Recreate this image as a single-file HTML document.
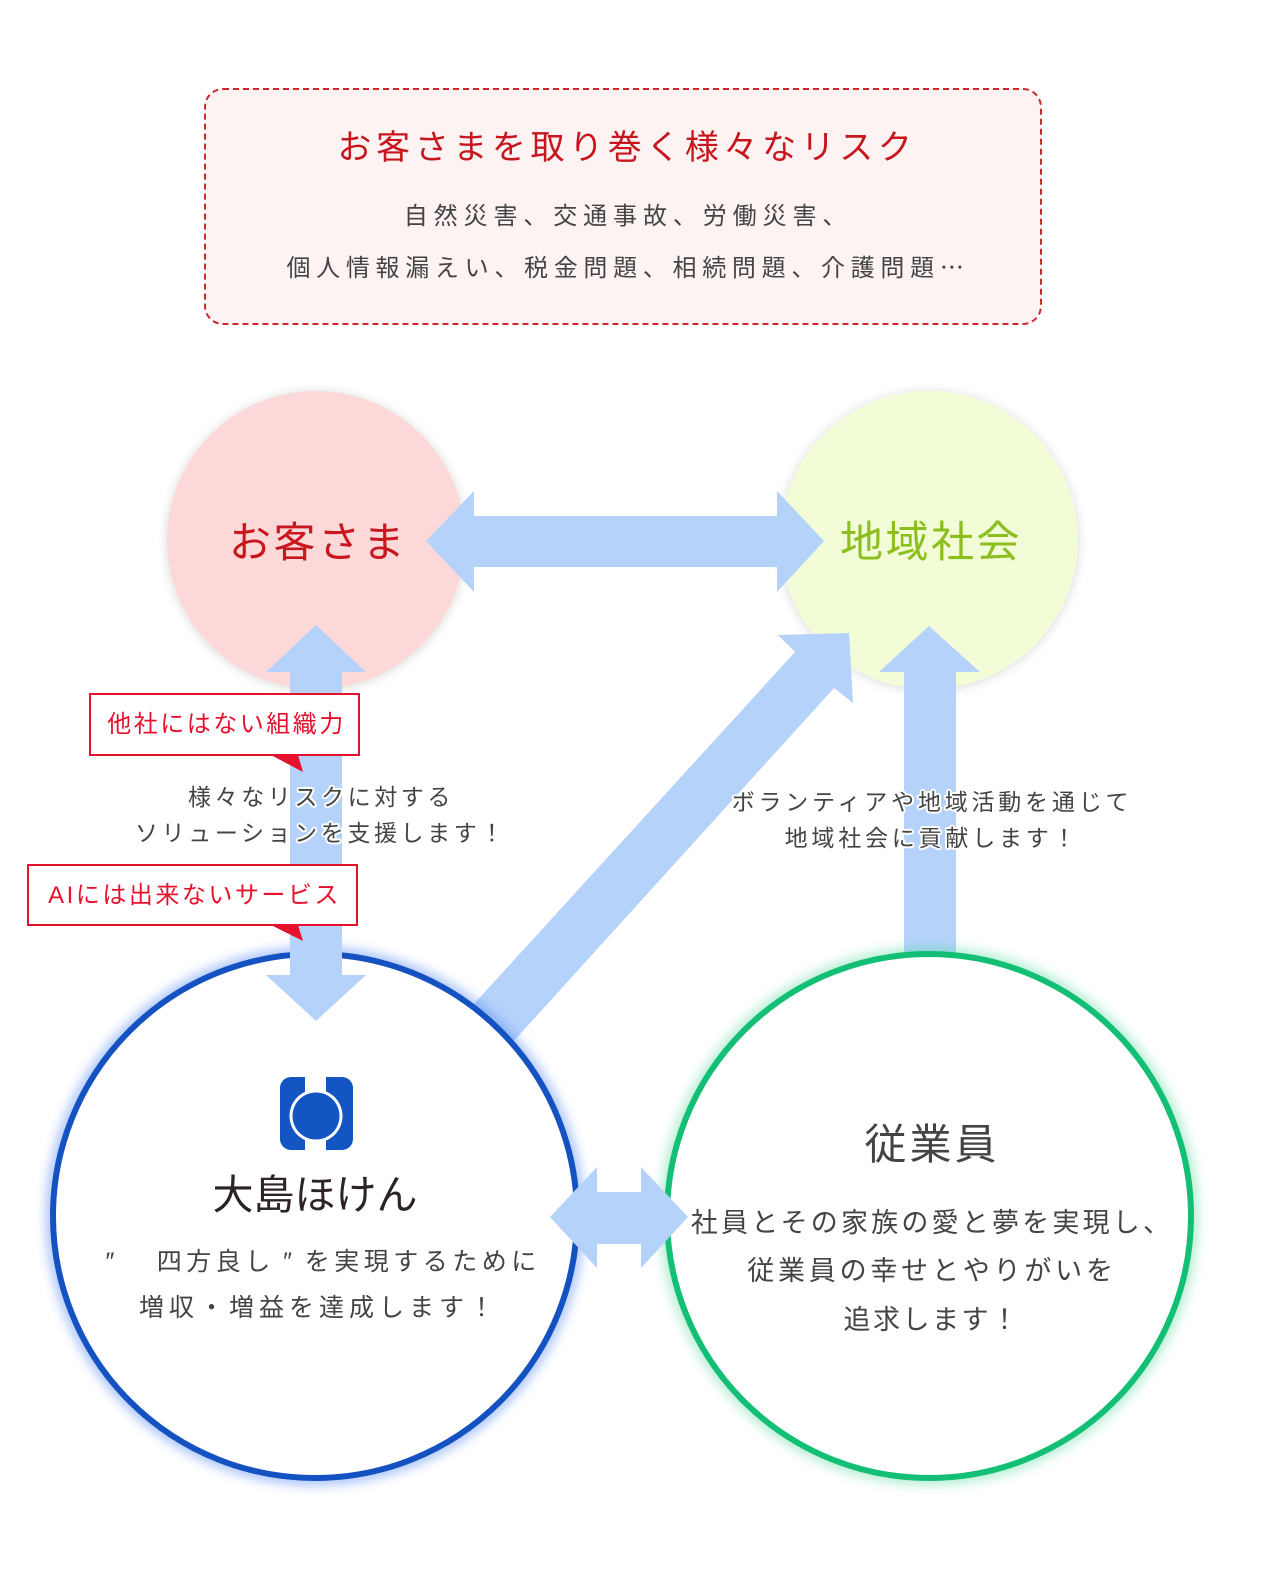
<!DOCTYPE html>
<html lang="ja">
<head>
<meta charset="utf-8">
<style>
html,body{margin:0;padding:0;background:#fff;}
#c{position:relative;width:1268px;height:1570px;overflow:hidden;background:#fff;
font-family:"Liberation Sans","Noto Sans CJK JP",sans-serif;}
svg{position:absolute;left:0;top:0;}
.t{position:absolute;white-space:nowrap;text-align:center;}
.j{font-family:"Noto Sans CJK JP",sans-serif;}
.q{display:inline-block;width:30px;text-align:center;}
.halo{text-shadow:2px 0 #fff,-2px 0 #fff,0 2px #fff,0 -2px #fff,1.5px 1.5px #fff,-1.5px 1.5px #fff,1.5px -1.5px #fff,-1.5px -1.5px #fff;}
</style>
</head>
<body>
<div id="c">
<svg width="1268" height="1570" viewBox="0 0 1268 1570" xmlns="http://www.w3.org/2000/svg">
  <defs>
    <filter id="sh" x="-20%" y="-20%" width="140%" height="140%">
      <feDropShadow dx="0" dy="1" stdDeviation="5" flood-color="#000" flood-opacity="0.16"/>
    </filter>
    <filter id="bl" x="-20%" y="-20%" width="140%" height="140%">
      <feGaussianBlur stdDeviation="6"/>
    </filter>
  </defs>

  <rect x="205" y="89" width="836" height="235" rx="18" ry="18" fill="#fdf3f3" stroke="#d0262c" stroke-width="2" stroke-dasharray="6 4"/>

  <circle cx="316" cy="540" r="149" fill="#fdd8d8" filter="url(#sh)"/>
  <circle cx="929" cy="540" r="149" fill="#f2fcd7" filter="url(#sh)"/>

  <polygon fill="#b5d2fb" points="849,633 853,703 834,688 483,1075 441,1040 795,652 778,635"/>
  <polygon fill="#b5d2fb" points="929,626 980,672 956,672 956,990 904,990 904,672 879,672"/>

  <circle cx="315" cy="1216" r="263" fill="none" stroke="#5d8ff5" stroke-width="9" opacity="0.75" filter="url(#bl)"/>
  <circle cx="929" cy="1216" r="263" fill="none" stroke="#4fd79a" stroke-width="9" opacity="0.6" filter="url(#bl)"/>
  <circle cx="315" cy="1216" r="262" fill="#fff" stroke="#1452c2" stroke-width="6"/>
  <circle cx="929" cy="1216" r="262" fill="#fff" stroke="#12bf74" stroke-width="6"/>

  <polygon fill="#b5d2fb" points="426,541 474,491 474,516 777,516 777,491 824,541 777,592 777,567 474,567 474,592"/>
  <polygon fill="#b5d2fb" points="316,625 366,672 342,672 342,975 366,975 316,1021 266,975 290,975 290,672 266,672"/>
  <polygon fill="#b5d2fb" points="550,1217 597,1167 597,1192 641,1192 641,1167 688,1217 641,1268 641,1244 597,1244 597,1268"/>

  <rect x="90" y="694" width="269" height="61" fill="#fff" stroke="#e5112d" stroke-width="2"/>
  <polygon fill="#e5112d" points="271,755 298,755 303,772"/>
  <rect x="28" y="865" width="329" height="60" fill="#fff" stroke="#e5112d" stroke-width="2"/>
  <polygon fill="#e5112d" points="271,925 298,925 303,941"/>

  <rect x="280" y="1077" width="73" height="73" rx="11" ry="11" fill="#1455c4"/>
  <rect x="305" y="1077" width="21" height="73" fill="#fff"/>
  <circle cx="316" cy="1116" r="26.5" fill="#fff"/>
  <circle cx="316" cy="1116" r="23.5" fill="#1455c4"/>
</svg>

<div class="t" style="left:205px;width:836px;top:127px;line-height:42px;font-size:34px;letter-spacing:4.6px;padding-left:4px;color:#c8161e;">お客さまを取り巻く様々なリスク</div>
<div class="t" style="left:205px;width:836px;top:201px;line-height:32px;font-size:24px;letter-spacing:5.9px;padding-left:5px;color:#444;">自然災害、交通事故、労働災害、</div>
<div class="t" style="left:205px;width:836px;top:250px;line-height:32px;font-size:24px;letter-spacing:5.7px;padding-left:5px;color:#444;">個人情報漏えい、税金問題、相続問題、介護問題<span class="j">…</span></div>

<div class="t" style="left:166px;width:300px;top:518px;line-height:50px;font-size:42px;letter-spacing:2.5px;padding-left:2px;color:#c8171e;">お客さま</div>
<div class="t" style="left:779px;width:300px;top:518px;line-height:50px;font-size:43px;letter-spacing:2.5px;padding-left:2px;color:#8cbf1d;">地域社会</div>

<div class="t" style="left:90px;width:269px;top:709px;line-height:32px;font-size:24px;letter-spacing:2.5px;padding-left:2px;color:#e5112d;">他社にはない組織力</div>
<div class="t" style="left:28px;width:329px;top:880px;line-height:32px;font-size:24px;letter-spacing:2.5px;padding-left:2px;color:#e5112d;">AIには出来ないサービス</div>

<div class="t halo" style="left:68px;width:500px;top:781px;line-height:32px;font-size:23px;letter-spacing:3.6px;padding-left:3px;color:#444;">様々なリスクに対する</div>
<div class="t halo" style="left:68px;width:500px;top:817px;line-height:32px;font-size:23px;letter-spacing:3.6px;padding-left:3px;color:#444;">ソリューションを支援します！</div>

<div class="t halo" style="left:679px;width:500px;top:786px;line-height:32px;font-size:23px;letter-spacing:3.8px;padding-left:3px;color:#444;">ボランティアや地域活動を通じて</div>
<div class="t halo" style="left:679px;width:500px;top:822px;line-height:32px;font-size:23px;letter-spacing:3.8px;padding-left:3px;color:#444;">地域社会に貢献します！</div>

<div class="t" style="left:115px;width:400px;top:1171px;line-height:48px;font-size:41px;font-weight:normal;letter-spacing:0px;color:#2b2422;">大島ほけん</div>
<div class="t" style="left:65px;width:500px;top:1245px;line-height:34px;font-size:25px;letter-spacing:4.5px;padding-left:4px;color:#444;"><span class="q">″</span>　四方良し<span class="q">″</span>を実現するために</div>
<div class="t" style="left:65px;width:500px;top:1291px;line-height:34px;font-size:25px;letter-spacing:5px;padding-left:4px;color:#444;">増収・増益を達成します！</div>

<div class="t" style="left:729px;width:400px;top:1120px;line-height:50px;font-size:42px;letter-spacing:3px;padding-left:3px;color:#444;">従業員</div>
<div class="t" style="left:679px;width:500px;top:1205px;line-height:36px;font-size:27px;letter-spacing:3.2px;padding-left:3px;color:#444;">社員とその家族の愛と夢を実現し、</div>
<div class="t" style="left:679px;width:500px;top:1253px;line-height:36px;font-size:27px;letter-spacing:3.8px;padding-left:3px;color:#444;">従業員の幸せとやりがいを</div>
<div class="t" style="left:679px;width:500px;top:1302px;line-height:36px;font-size:27px;letter-spacing:2.5px;padding-left:3px;color:#444;">追求します！</div>
</div>
</body>
</html>
